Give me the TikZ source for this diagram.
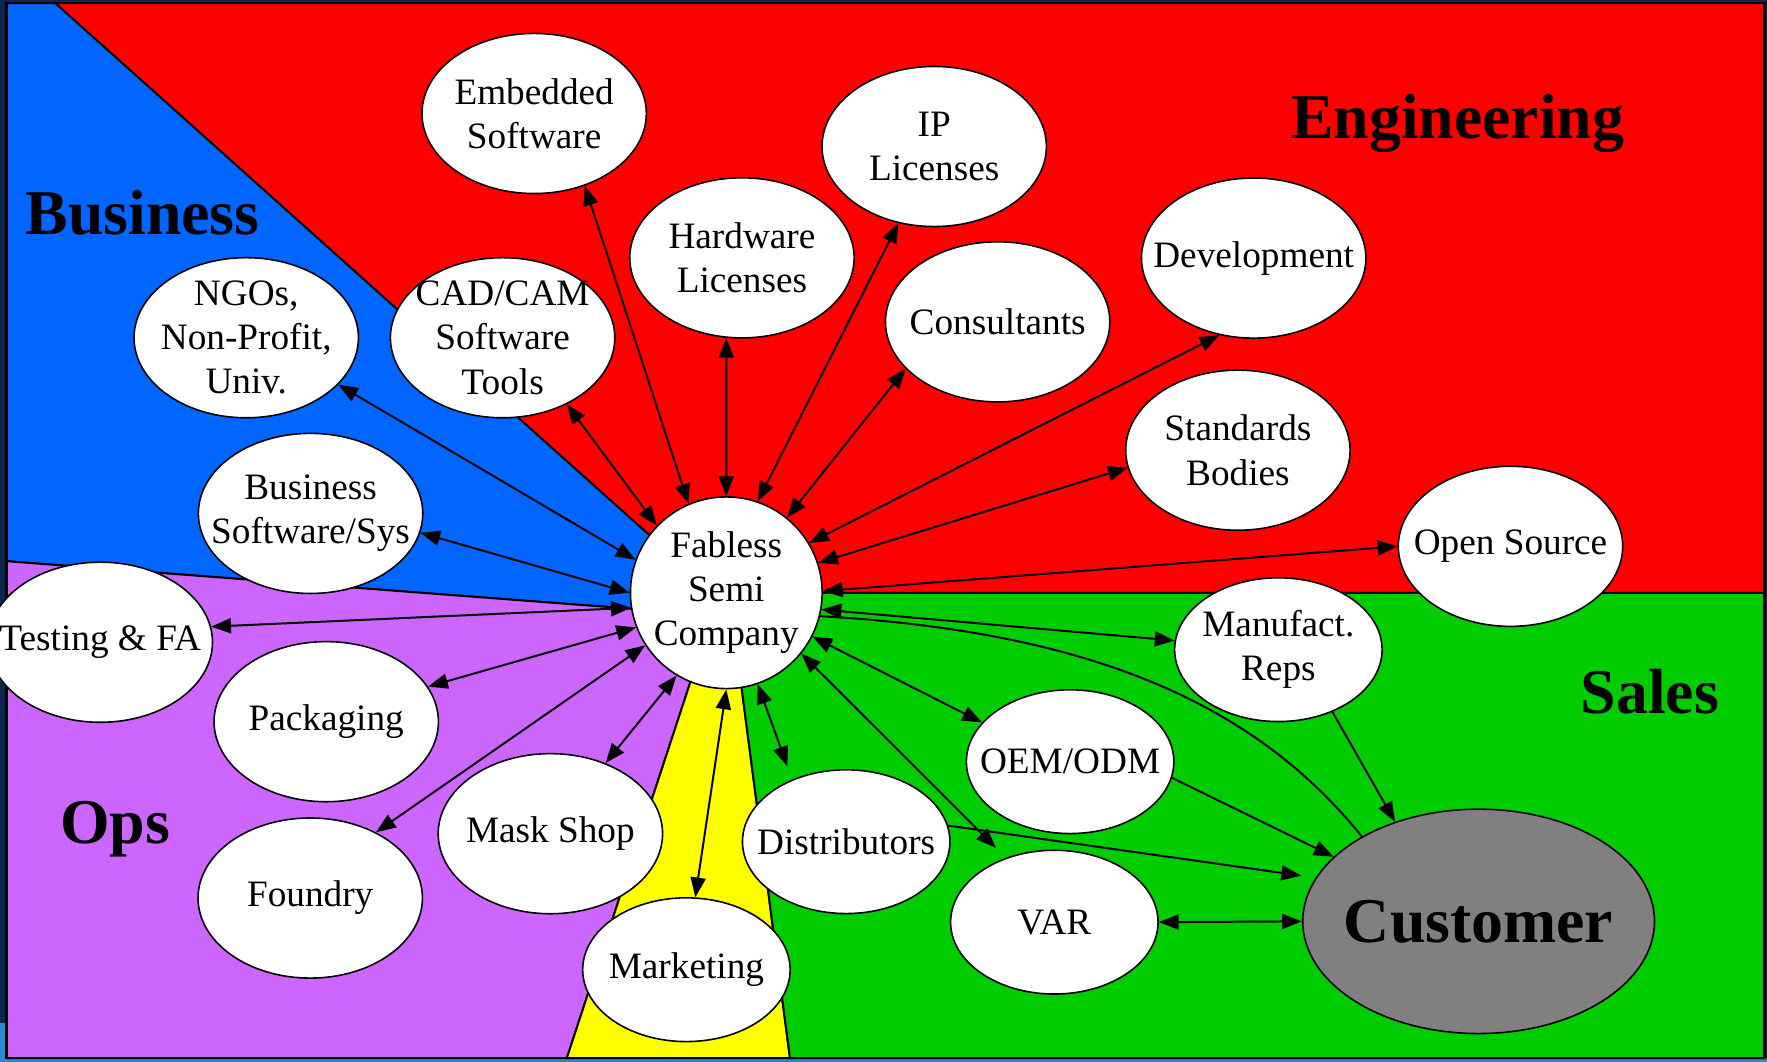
\documentclass[tikz,border=0pt]{standalone}
\usepackage{fontspec}
\setmainfont{Liberation Serif}
\usetikzlibrary{shapes.geometric,arrows.meta}
\definecolor{SlideNavy}{HTML}{0B2750}
\definecolor{SlideBlue}{HTML}{2A8AD0}
\definecolor{EngRed}{HTML}{FF0000}
\definecolor{BizBlue}{HTML}{0066FF}
\definecolor{OpsPurple}{HTML}{CC66FF}
\definecolor{MktYellow}{HTML}{FFFF00}
\definecolor{SalesGreen}{HTML}{00CC00}
\definecolor{CustGray}{HTML}{808080}
\pgfdeclarelayer{sectors}
\pgfdeclarelayer{links}
\pgfsetlayers{sectors,links,main}

\begin{document}
\begin{tikzpicture}[
  x=0.01cm, y=-0.01cm,
  % partner bubbles
  bubble/.style={ellipse, draw, fill=white, line width=0.4pt, inner sep=-0.3cm,
    minimum width=1.99cm, minimum height=1.42cm, align=center,
    font=\fontsize{9.4}{11.15}\selectfont},
  smallbubble/.style={bubble, minimum width=1.84cm, minimum height=1.275cm},
  sector/.style={draw, line width=0.5pt, line join=round},
  region/.style={anchor=base west, inner sep=0pt, font=\fontsize{16.1}{19}\selectfont\bfseries},
  link/.style={line width=0.5pt, {Triangle[length=5pt,width=3.8pt]}-{Triangle[length=5pt,width=3.8pt]}},
  feed/.style={line width=0.5pt, -{Triangle[length=5pt,width=3.8pt]}}
  ]
  \pgfmathsetmacro{\FrameLeft}{6}
  \pgfmathsetmacro{\FrameTop}{2.7}
  \pgfmathsetmacro{\FrameRight}{1566}
  \pgfmathsetmacro{\FrameBottom}{938.9}
  \useasboundingbox (0,0) rectangle (1568,942);

  \coordinate (BizTop) at (49,\FrameTop);
  \coordinate (BizHubA) at (610,505);
  \coordinate (BizHubB) at (610,544);
  \coordinate (BizLeft) at (\FrameLeft,498);
  \coordinate (MktHubL) at (627.5,560);
  \coordinate (MktHubR) at (651.5,560);
  \coordinate (MktFootL) at (503,\FrameBottom);
  \coordinate (MktFootR) at (701,\FrameBottom);
  \coordinate (SalesHub) at (700,526);
  \coordinate (SalesEdge) at (\FrameRight,526);

  \begin{pgfonlayer}{sectors}
    % slide around the frame
    \fill[SlideNavy] (0,0) rectangle (1568,942);
    \fill[SlideBlue] (0,908) rectangle (\FrameLeft,942);
    \fill[SlideBlue] (0,\FrameBottom) rectangle (1568,942);
    % engineering fills the frame, the other sectors lie on it
    \fill[EngRed] (\FrameLeft,\FrameTop) rectangle (\FrameRight,\FrameBottom);
    \draw[sector, fill=BizBlue] (\FrameLeft,\FrameTop) -- (BizTop) -- (BizHubA) -- (BizHubB) -- (BizLeft) -- cycle;
    \draw[sector, fill=OpsPurple] (BizLeft) -- (BizHubB) -- (MktHubL) -- (MktFootL) -- (\FrameLeft,\FrameBottom) -- cycle;
    \draw[sector, fill=MktYellow] (MktHubL) -- (MktFootL) -- (MktFootR) -- (MktHubR) -- cycle;
    \draw[sector, fill=SalesGreen] (MktHubR) -- (MktFootR) -- (\FrameRight,\FrameBottom) -- (SalesEdge) -- (SalesHub) -- cycle;
    \draw[line width=0.7pt] (\FrameLeft,\FrameTop) rectangle (\FrameRight,\FrameBottom);
  \end{pgfonlayer}

  % sector names
  \node[region] (BusinessLabel) at (22,207.8) {Business};
  \node[region] (EngineeringLabel) at (1145,122.9) {Engineering};
  \node[region] (SalesLabel) at (1402,633) {Sales};
  \node[region] (OpsLabel) at (52.6,748.4) {Ops};

  \node[bubble, minimum width=1.7cm, minimum height=1.7cm] (Fabless) at (644.5,526) {Fabless\\Semi\\Company};
  \node[bubble] (Embedded) at (474,100.7) {Embedded\\Software};
  \node[bubble] (IPLicenses) at (829,130) {IP\\Licenses};
  \node[bubble] (Hardware) at (658.4,228.8) {Hardware\\Licenses};
  \node[bubble] (CadCam) at (446,299.7) {CAD/CAM\\Software\\Tools};
  \node[bubble] (Ngos) at (218.5,299.7) {NGOs,\\Non-Profit,\\Univ.};
  \node[bubble] (Consultants) at (885.3,285.6) {Consultants};
  \node[bubble] (Development) at (1112.5,229) {Development};
  \node[bubble] (Standards) at (1098.5,399.5) {Standards\\Bodies};
  \node[bubble] (BusinessSoft) at (275.6,455.6) {Business\\Software/Sys};
  \node[bubble] (OpenSource) at (1340.4,484.8) {Open Source};
  \node[bubble] (Testing) at (89,569.9) {Testing \& FA};
  \node[bubble] (Packaging) at (289.5,640.4) {Packaging};
  \node[bubble] (MaskShop) at (488.4,739.8) {Mask Shop};
  \node[bubble] (Foundry) at (275.3,796.9) {Foundry};
  \node[smallbubble] (ManufReps) at (1134.4,576.5) {Manufact.\\Reps};
  \node[smallbubble] (OemOdm) at (949.6,675.9) {OEM/ODM};
  \node[smallbubble] (Distributors) at (750.9,746.9) {Distributors};
  \node[smallbubble] (Var) at (935.6,818.3) {VAR};
  \node[smallbubble] (Marketing) at (609.1,860.5) {Marketing};
  \node[bubble, fill=CustGray, minimum width=3.12cm, minimum height=1.99cm,
    font=\fontsize{16.1}{19}\selectfont\bfseries] (Customer) at (1312.1,817.6) {Customer};

  \begin{pgfonlayer}{links}
    % two-way links from the company
    \foreach \Partner/\FabAngle/\PartAngle in {Embedded/113/305, CadCam/136/314, Hardware/90/259,
      IPLicenses/71/245, Consultants/51/207, Development/31/246, Standards/18/189,
      OpenSource/1/180, Ngos/160/333, BusinessSoft/180/350, Testing/189/8, Packaging/201/19,
      Foundry/213/45, MaskShop/239/52, Marketing/270/83, OemOdm/333/156, ManufReps/350/175}
      \draw[link] (Fabless.\FabAngle) -- (\Partner.\PartAngle);
    \draw[link, shorten >=0.125cm] (Fabless.289) -- (Distributors.131);
    \draw[link, shorten >=0.125cm] (Fabless.321) -- (Var.127);
    % channels into the customer
    \draw[line width=0.5pt] (Fabless.346) .. controls (960,560) and (1110,620) .. (Customer.144);
    \draw[feed] (ManufReps.311) -- (Customer.130);
    \draw[feed] (OemOdm.351) -- (Customer.156);
    \draw[feed, shorten >=0.13cm] (Distributors.9) -- (Customer.165);
    \draw[link] (Var.east) -- (Customer.west);
  \end{pgfonlayer}
\end{tikzpicture}
\end{document}
